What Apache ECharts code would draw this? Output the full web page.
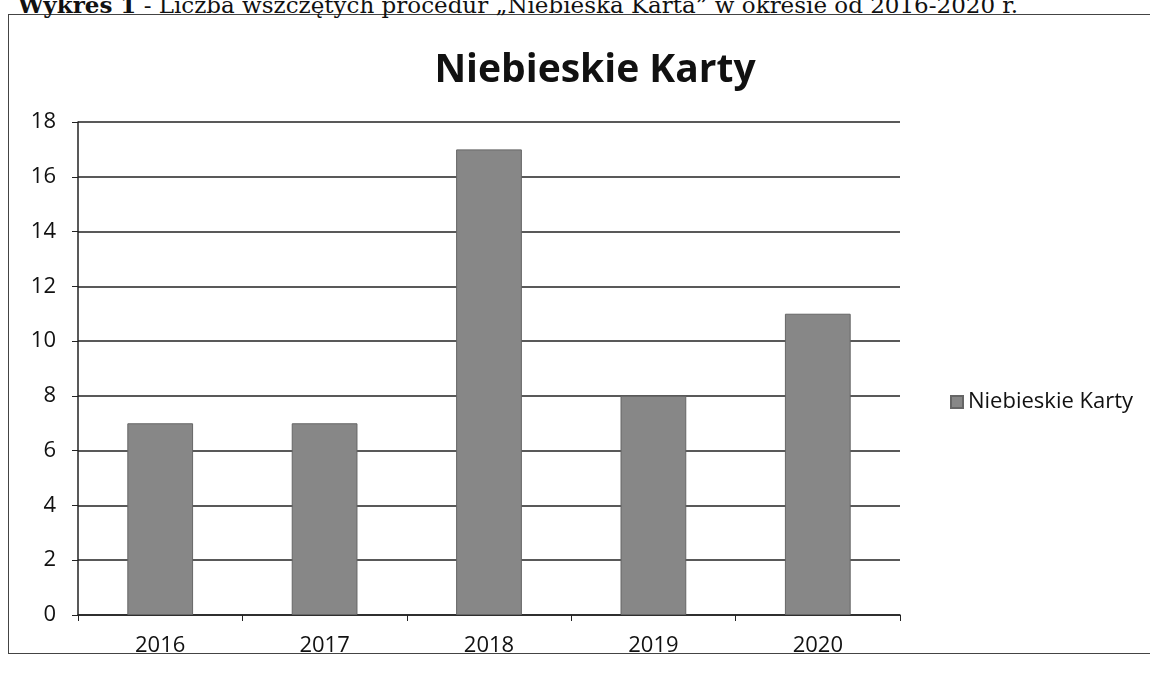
<!DOCTYPE html>
<html><head><meta charset="utf-8">
<script src="https://cdn.jsdelivr.net/npm/echarts@6/dist/echarts.min.js"></script>
<style>
html,body{margin:0;padding:0;background:#fff;width:1150px;height:686px;overflow:hidden;}
#cap{position:absolute;left:18px;top:-9px;font-family:"DejaVu Serif","Liberation Serif",serif;font-size:23px;color:#111;white-space:nowrap;}
#box{position:absolute;left:8px;top:14px;width:1160px;height:640px;border:1.5px solid #444;box-sizing:border-box;}
#c{position:absolute;left:0;top:0;width:1150px;height:686px;}
</style></head>
<body>
<div id="box"></div>
<div id="cap"><b>Wykres 1</b> - Liczba wszczętych procedur „Niebieska Karta” w okresie od 2016-2020 r.</div>
<div id="c"></div>
<script>
const categories = ["2016","2017","2018","2019","2020"];
const seriesName = "Niebieskie Karty";
const values = [7, 7, 17, 8, 11];
const yTicks = {min:0, max:18, interval:2};

const chart = echarts.init(document.getElementById('c'));
chart.setOption({
  backgroundColor:'transparent',
  title:{text:'Niebieskie Karty',left:590,textAlign:'center',top:46,
    textStyle:{fontFamily:'Open Sans',fontWeight:'bold',fontSize:39,color:'#111'}},
  legend:{data:[seriesName],left:945,top:386,itemWidth:12,itemHeight:12,itemGap:6,icon:'rect',
    textStyle:{fontFamily:'Open Sans',fontSize:22,color:'#111'}},
  grid:{left:78,right:250,top:122,bottom:71},
  xAxis:{type:'category',data:categories,boundaryGap:true,
    axisLine:{lineStyle:{color:'#222',width:1.5}},
    axisTick:{show:true,length:6,inside:false,lineStyle:{color:'#222'}},
    axisLabel:{fontFamily:'Open Sans',fontSize:22,color:'#111',margin:20}},
  yAxis:{type:'value',min:yTicks.min,max:yTicks.max,interval:yTicks.interval,
    axisLine:{show:true,lineStyle:{color:'#222',width:1.5}},
    axisTick:{show:true,length:6,lineStyle:{color:'#222'}},
    splitLine:{lineStyle:{color:'#222',width:1.5}},
    axisLabel:{fontFamily:'Open Sans',fontSize:22,color:'#111',margin:22}},
  series:[{name:seriesName,type:'bar',data:values,barWidth:'40%',
    itemStyle:{color:'#878787',borderColor:'#666',borderWidth:1}}]
});
</script>
</body></html>
